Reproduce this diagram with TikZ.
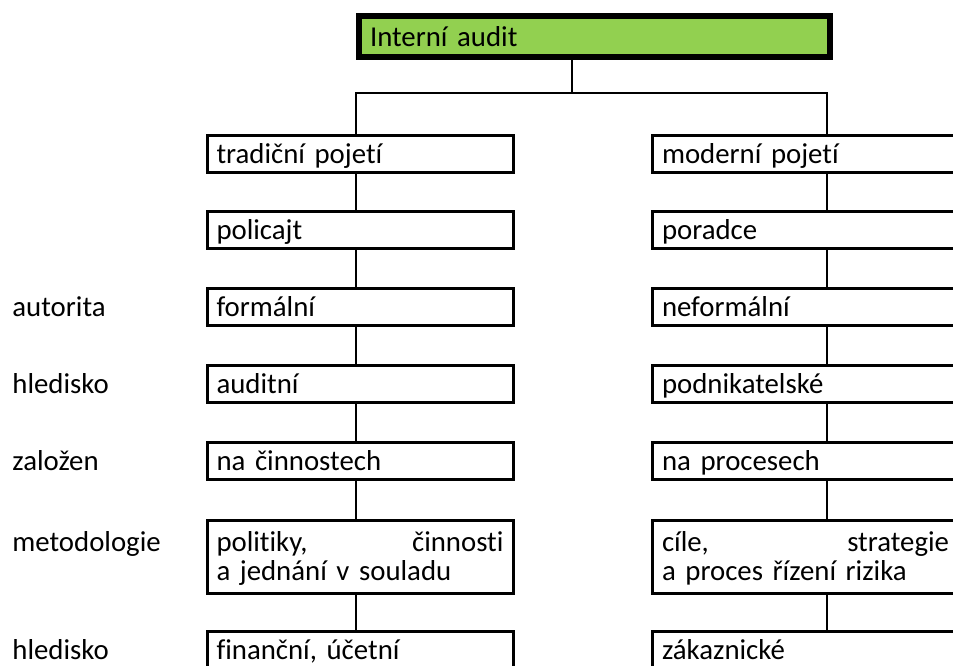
\documentclass[tikz,border=0pt]{standalone}
\usepackage{fontspec}
\setmainfont[Ligatures=NoCommon]{Carlito}
\definecolor{topgreen}{HTML}{92D050}
\begin{document}
\begin{tikzpicture}[x=0.5pt,y=-0.5pt,
  every node/.style={font=\fontsize{14.4pt}{14.5pt}\selectfont},
  box/.style={draw=black, line width=1.5pt, rectangle, anchor=north west,
    inner xsep=4.75pt, inner ysep=0pt, text width=143.5pt, align=left,
    minimum height=18.5pt, text height=13pt, text depth=3pt},
  tallbox/.style={box, minimum height=36.5pt, text height=10pt, text depth=15pt},
  topbox/.style={draw=black, line width=3pt, fill=topgreen, rectangle, anchor=north west,
    inner xsep=5.5pt, inner ysep=0pt, text width=224.5pt, align=left,
    minimum height=20.5pt, text height=13pt, text depth=3.5pt},
  lbl/.style={anchor=base west, inner sep=0pt},
  conn/.style={line width=1pt, draw=black}
]
\useasboundingbox (0,0) rectangle (953,665);
\clip (0,0) rectangle (953,665);

% top
\node[topbox] (top) at (356,13) {Interní audit};

% left column
\node[box] (trad)  at (205.5,133.5) {tradiční pojetí};
\node[box] (pol)   at (205.5,209.5) {policajt};
\node[box] (form)  at (205.5,286.5) {formální};
\node[box] (aud)   at (205.5,363.5) {auditní};
\node[box] (cinn)  at (205.5,440.5) {na činnostech};
\node[tallbox] (polit) at (205.5,518.5) {politiky,\hfill činnosti\\a jednání v souladu};
\node[box] (fin)   at (205.5,629.5) {finanční, účetní};

% right column
\node[box] (mod)    at (651,133.5) {moderní pojetí};
\node[box] (por)    at (651,209.5) {poradce};
\node[box] (neform) at (651,286.5) {neformální};
\node[box] (podn)   at (651,363.5) {podnikatelské};
\node[box] (proc)   at (651,440.5) {na procesech};
\node[tallbox] (cile) at (651,518.5) {cíle,\hfill strategie\\a proces řízení rizika};
\node[box] (zak)    at (651,629.5) {zákaznické};

% labels
\coordinate (lx) at (12,0);
\node[lbl] (l1) at (lx |- form.base) {autorita};
\node[lbl] (l2) at (lx |- aud.base) {hledisko};
\node[lbl] (l3) at (lx |- cinn.base) {založen};
\node[lbl] (l4) at (lx |- polit.base) {metodologie};
\node[lbl] (l5) at (lx |- fin.base) {hledisko};

% connectors
\coordinate (j)  at (572,93);
\coordinate (jl) at (356,93);
\coordinate (jr) at (827,93);
\draw[conn] (j |- top.south) -- (j);
\draw[conn] (jl |- trad.north) -- (jl) -- (jr) -- (jr |- mod.north);

\draw[conn] (jl |- trad.south)  -- (jl |- pol.north);
\draw[conn] (jl |- pol.south)   -- (jl |- form.north);
\draw[conn] (jl |- form.south)  -- (jl |- aud.north);
\draw[conn] (jl |- aud.south)   -- (jl |- cinn.north);
\draw[conn] (jl |- cinn.south)  -- (jl |- polit.north);
\draw[conn] (jl |- polit.south) -- (jl |- fin.north);

\draw[conn] (jr |- mod.south)    -- (jr |- por.north);
\draw[conn] (jr |- por.south)    -- (jr |- neform.north);
\draw[conn] (jr |- neform.south) -- (jr |- podn.north);
\draw[conn] (jr |- podn.south)   -- (jr |- proc.north);
\draw[conn] (jr |- proc.south)   -- (jr |- cile.north);
\draw[conn] (jr |- cile.south)   -- (jr |- zak.north);
\end{tikzpicture}
\end{document}
